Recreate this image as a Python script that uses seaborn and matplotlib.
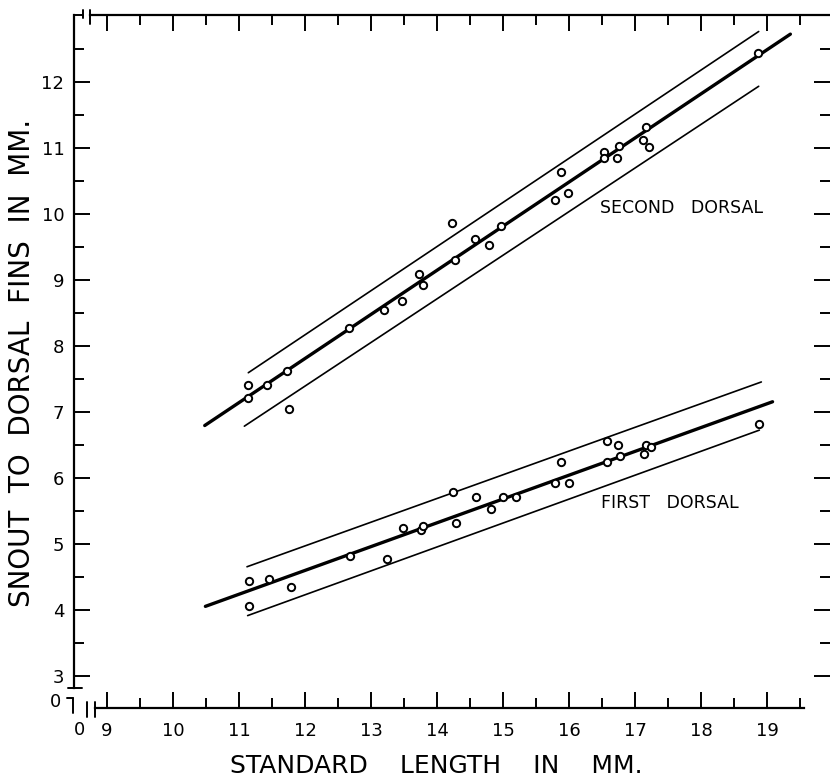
import matplotlib
matplotlib.use("Agg")
import matplotlib.pyplot as plt
from matplotlib.ticker import FixedLocator
import seaborn as sns

# Standard length (mm) and snout-to-fin distances (mm)
std_length_second = [11.13, 11.13, 11.43, 11.73, 11.76, 12.66, 13.20, 13.47, 13.73, 13.78,
                     14.22, 14.27, 14.58, 14.79, 14.97, 15.79, 15.88, 15.98, 16.53, 16.53,
                     16.73, 16.76, 17.12, 17.17, 17.21, 18.86]
second_dorsal = [7.41, 7.21, 7.42, 7.63, 7.05, 8.28, 8.55, 8.68, 9.09, 8.93,
                 9.87, 9.31, 9.62, 9.54, 9.83, 10.21, 10.64, 10.32, 10.94, 10.85,
                 10.86, 11.03, 11.12, 11.32, 11.02, 12.44]
std_length_first = [11.15, 11.15, 11.45, 11.78, 12.68, 13.24, 13.48, 13.75, 13.79, 14.24,
                    14.29, 14.59, 14.82, 15.00, 15.19, 15.79, 15.88, 15.99, 16.57, 16.58,
                    16.74, 16.77, 17.13, 17.17, 17.24, 18.87]
first_dorsal = [4.45, 4.07, 4.47, 4.36, 4.82, 4.78, 5.24, 5.21, 5.28, 5.79,
                5.33, 5.72, 5.53, 5.72, 5.72, 5.93, 6.24, 5.93, 6.57, 6.24,
                6.50, 6.34, 6.37, 6.51, 6.47, 6.83]

# regression lines (thick) and their limits (thin), as end points
second_fit_x, second_fit_y = [10.48, 19.35], [6.80, 12.73]
second_upper_x, second_upper_y = [11.14, 18.87], [7.60, 12.77]
second_lower_x, second_lower_y = [11.08, 18.87], [6.79, 11.94]
first_fit_x, first_fit_y = [10.49, 19.08], [4.06, 7.16]
first_upper_x, first_upper_y = [11.12, 18.91], [4.66, 7.46]
first_lower_x, first_lower_y = [11.13, 18.88], [3.92, 6.73]

x_major = list(range(9, 20))
x_minor = [v + 0.5 for v in range(9, 20)]
y_major = list(range(3, 13))
y_minor = [v + 0.5 for v in range(3, 13)]

sns.set_style("ticks")
plt.rcParams["font.family"] = ["DejaVu Sans"]
plt.rcParams["text.color"] = "black"
plt.rcParams["xtick.color"] = "black"
plt.rcParams["ytick.color"] = "black"

fig = plt.figure(figsize=(8.3, 7.78), dpi=100)
ax = fig.add_axes([74 / 830, 1 - 708 / 778, 756 / 830, 693 / 778])

for xs, ys, lw in [(second_fit_x, second_fit_y, 2.4), (second_upper_x, second_upper_y, 1.2),
                   (second_lower_x, second_lower_y, 1.2), (first_fit_x, first_fit_y, 2.4),
                   (first_upper_x, first_upper_y, 1.2), (first_lower_x, first_lower_y, 1.2)]:
    sns.lineplot(x=xs, y=ys, ax=ax, color="black", linewidth=lw,
                 estimator=None, sort=False, zorder=2)

for xs, ys in [(std_length_second, second_dorsal), (std_length_first, first_dorsal)]:
    sns.scatterplot(x=xs, y=ys, ax=ax, marker="o", s=28, color="white",
                    edgecolor="black", linewidth=1.4, zorder=3)

ax.text(16.47, 10.09, "SECOND   DORSAL", fontsize=12.5, ha="left", va="center")
ax.text(16.48, 5.62, "FIRST   DORSAL", fontsize=12.5, ha="left", va="center")

ax.set_xlim(8.5, 19.95)
ax.set_ylim(2.52, 13.02)
ax.xaxis.set_major_locator(FixedLocator(x_major))
ax.xaxis.set_minor_locator(FixedLocator(x_minor))
ax.yaxis.set_major_locator(FixedLocator(y_major))
ax.yaxis.set_minor_locator(FixedLocator(y_minor))

ax.tick_params(which="both", direction="in", top=True, right=True,
               width=1.4, color="black", labelsize=13, labelcolor="black")
ax.tick_params(which="major", length=11.5)
ax.tick_params(which="minor", length=7)
ax.tick_params(axis="x", pad=10)
ax.tick_params(axis="y", pad=7)

for side in ["left", "bottom", "top"]:
    ax.spines[side].set_linewidth(1.6)
    ax.spines[side].set_color("black")
ax.spines["right"].set_visible(False)
ax.spines["left"].set_bounds(2.82, 13.02)
ax.spines["bottom"].set_bounds(8.82, 19.55)
ax.spines["top"].set_bounds(8.74, 19.95)

# axis break marks near the origin
brk = dict(color="black", linewidth=1.4, clip_on=False)
ax.plot([8.5, 8.64], [13.02, 13.02], **brk)
ax.plot([8.64, 8.64], [12.98, 13.09], **brk)
ax.plot([8.74, 8.74], [12.89, 13.09], **brk)
ax.plot([8.41, 8.62], [2.82, 2.82], **brk)
ax.plot([8.39, 8.48], [2.67, 2.67], **brk)
ax.plot([8.48, 8.48], [2.67, 2.44], **brk)
ax.plot([8.70, 8.70], [2.61, 2.38], **brk)
ax.plot([8.82, 8.82], [2.61, 2.38], **brk)
ax.text(-0.025, 2.61, "0", fontsize=13, ha="center", va="center",
        transform=ax.get_yaxis_transform())
ax.text(8.59, -0.032, "0", fontsize=13, ha="center", va="center",
        transform=ax.get_xaxis_transform())

fig.text(230 / 830, 1 - 766 / 778, "STANDARD    LENGTH    IN    MM.",
         fontsize=18, ha="left", va="center")
fig.text(22 / 830, 1 - 363 / 778, "SNOUT  TO  DORSAL  FINS  IN  MM.",
         fontsize=20, rotation=90, ha="center", va="center")

fig.savefig("out.png", dpi=100)
